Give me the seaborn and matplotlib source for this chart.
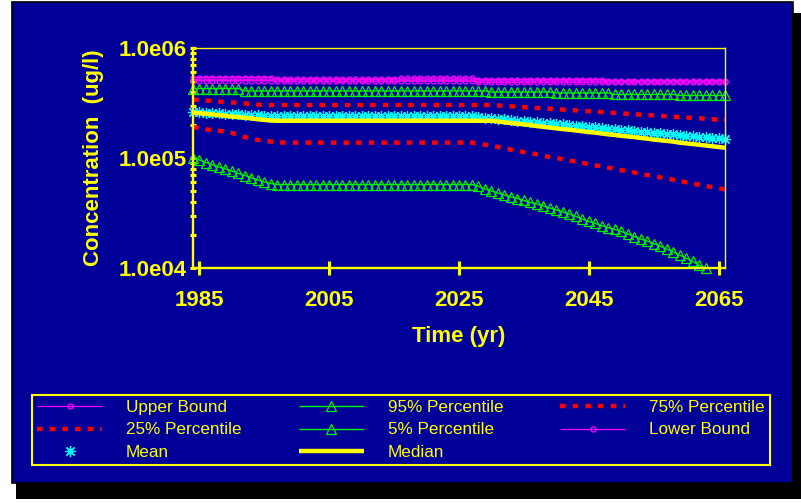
import numpy as np
import matplotlib
matplotlib.use("Agg")
import matplotlib.pyplot as plt
import seaborn as sns
from matplotlib.patches import Rectangle
from matplotlib.lines import Line2D

# ---------------- data ----------------
years = np.arange(1984, 2067)

upper_bound = [
    5.39e5, 5.39e5, 5.39e5, 5.39e5, 5.39e5, 5.39e5, 5.39e5, 5.39e5, 5.39e5, 5.39e5,
    5.39e5, 5.39e5, 5.39e5, 5.23e5, 5.23e5, 5.23e5, 5.23e5, 5.23e5, 5.23e5, 5.23e5,
    5.23e5, 5.23e5, 5.23e5, 5.23e5, 5.23e5, 5.23e5, 5.23e5, 5.23e5, 5.23e5, 5.23e5,
    5.23e5, 5.23e5, 5.34e5, 5.34e5, 5.34e5, 5.34e5, 5.34e5, 5.34e5, 5.34e5, 5.34e5,
    5.34e5, 5.34e5, 5.34e5, 5.34e5, 5.17e5, 5.17e5, 5.17e5, 5.17e5, 5.17e5, 5.17e5,
    5.17e5, 5.17e5, 5.17e5, 5.17e5, 5.17e5, 5.17e5, 5.17e5, 5.17e5, 5.17e5, 5.17e5,
    5.17e5, 5.17e5, 5.17e5, 5.17e5, 5.01e5, 5.01e5, 5.01e5, 5.01e5, 5.01e5, 5.01e5,
    5.01e5, 5.01e5, 5.01e5, 5.01e5, 5.01e5, 5.01e5, 5.01e5, 5.01e5, 5.01e5, 5.01e5,
    5.01e5, 5.01e5, 5.01e5,
]

lower_bound = [
    5.06e5, 5.06e5, 5.06e5, 5.06e5, 5.06e5, 5.06e5, 5.06e5, 5.06e5, 5.06e5, 5.06e5,
    5.06e5, 5.06e5, 5.06e5, 5.01e5, 5.01e5, 5.01e5, 5.01e5, 5.01e5, 5.01e5, 5.01e5,
    5.01e5, 5.01e5, 5.01e5, 5.01e5, 5.01e5, 5.01e5, 5.01e5, 5.01e5, 5.01e5, 5.01e5,
    5.01e5, 5.01e5, 5.01e5, 5.01e5, 5.01e5, 5.01e5, 5.01e5, 5.01e5, 5.01e5, 5.01e5,
    5.01e5, 5.01e5, 5.01e5, 5.01e5, 4.91e5, 4.91e5, 4.91e5, 4.91e5, 4.91e5, 4.91e5,
    4.91e5, 4.91e5, 4.91e5, 4.91e5, 4.91e5, 4.91e5, 4.91e5, 4.91e5, 4.91e5, 4.91e5,
    4.91e5, 4.91e5, 4.91e5, 4.91e5, 4.91e5, 4.91e5, 4.91e5, 4.91e5, 4.91e5, 4.91e5,
    4.91e5, 4.91e5, 4.91e5, 4.91e5, 4.91e5, 4.91e5, 4.91e5, 4.91e5, 4.91e5, 4.91e5,
    4.91e5, 4.91e5, 4.91e5,
]

p95 = [
    4.28e5, 4.28e5, 4.28e5, 4.28e5, 4.28e5, 4.28e5, 4.28e5, 4.28e5, 4.07e5, 4.07e5,
    4.07e5, 4.07e5, 4.07e5, 4.07e5, 4.07e5, 4.07e5, 4.07e5, 4.07e5, 4.07e5, 4.07e5,
    4.07e5, 4.07e5, 4.07e5, 4.07e5, 4.07e5, 4.07e5, 4.07e5, 4.07e5, 4.07e5, 4.07e5,
    4.07e5, 4.07e5, 4.07e5, 4.07e5, 4.07e5, 4.07e5, 4.07e5, 4.07e5, 4.07e5, 4.07e5,
    4.07e5, 4.07e5, 4.07e5, 4.07e5, 4.07e5, 4.07e5, 3.98e5, 3.98e5, 3.98e5, 3.98e5,
    3.98e5, 3.98e5, 3.98e5, 3.98e5, 3.98e5, 3.98e5, 3.90e5, 3.90e5, 3.90e5, 3.90e5,
    3.90e5, 3.90e5, 3.90e5, 3.90e5, 3.90e5, 3.78e5, 3.78e5, 3.78e5, 3.78e5, 3.78e5,
    3.78e5, 3.78e5, 3.78e5, 3.78e5, 3.78e5, 3.70e5, 3.70e5, 3.70e5, 3.70e5, 3.70e5,
    3.70e5, 3.70e5, 3.70e5,
]

p75 = [
    3.40e5, 3.37e5, 3.33e5, 3.30e5, 3.26e5, 3.23e5, 3.20e5, 3.16e5, 3.13e5, 3.10e5,
    3.06e5, 3.03e5, 3.03e5, 3.03e5, 3.03e5, 3.03e5, 3.03e5, 3.03e5, 3.03e5, 3.03e5,
    3.03e5, 3.03e5, 3.03e5, 3.03e5, 3.03e5, 3.03e5, 3.03e5, 3.03e5, 3.03e5, 3.03e5,
    3.03e5, 3.03e5, 3.03e5, 3.03e5, 3.03e5, 3.03e5, 3.03e5, 3.03e5, 3.03e5, 3.03e5,
    3.03e5, 3.03e5, 3.03e5, 3.03e5, 3.03e5, 3.03e5, 3.03e5, 3.01e5, 2.98e5, 2.95e5,
    2.93e5, 2.90e5, 2.88e5, 2.85e5, 2.83e5, 2.80e5, 2.78e5, 2.75e5, 2.73e5, 2.71e5,
    2.69e5, 2.66e5, 2.64e5, 2.61e5, 2.59e5, 2.57e5, 2.55e5, 2.52e5, 2.50e5, 2.48e5,
    2.46e5, 2.44e5, 2.42e5, 2.39e5, 2.37e5, 2.35e5, 2.33e5, 2.32e5, 2.30e5, 2.27e5,
    2.25e5, 2.23e5, 2.22e5,
]

p25 = [
    1.91e5, 1.87e5, 1.82e5, 1.80e5, 1.77e5, 1.74e5, 1.69e5, 1.62e5, 1.55e5, 1.49e5,
    1.46e5, 1.44e5, 1.41e5, 1.40e5, 1.38e5, 1.38e5, 1.38e5, 1.38e5, 1.38e5, 1.38e5,
    1.38e5, 1.38e5, 1.38e5, 1.38e5, 1.38e5, 1.38e5, 1.38e5, 1.38e5, 1.38e5, 1.38e5,
    1.38e5, 1.38e5, 1.38e5, 1.38e5, 1.38e5, 1.38e5, 1.38e5, 1.38e5, 1.38e5, 1.38e5,
    1.38e5, 1.38e5, 1.38e5, 1.38e5, 1.35e5, 1.32e5, 1.29e5, 1.26e5, 1.22e5, 1.19e5,
    1.16e5, 1.13e5, 1.11e5, 1.08e5, 1.05e5, 1.02e5, 1.00e5, 9.75e4, 9.50e4, 9.26e4,
    9.03e4, 8.81e4, 8.59e4, 8.37e4, 8.16e4, 7.96e4, 7.76e4, 7.57e4, 7.38e4, 7.19e4,
    7.01e4, 6.84e4, 6.67e4, 6.50e4, 6.34e4, 6.18e4, 6.02e4, 5.87e4, 5.73e4, 5.58e4,
    5.44e4, 5.31e4, 5.17e4,
]

p5 = [
    9.90e4, 9.59e4, 9.10e4, 8.64e4, 8.28e4, 7.94e4, 7.62e4, 7.23e4, 6.93e4, 6.58e4,
    6.31e4, 6.05e4, 5.86e4, 5.74e4, 5.74e4, 5.74e4, 5.74e4, 5.74e4, 5.74e4, 5.74e4,
    5.74e4, 5.74e4, 5.74e4, 5.74e4, 5.74e4, 5.74e4, 5.74e4, 5.74e4, 5.74e4, 5.74e4,
    5.74e4, 5.74e4, 5.74e4, 5.74e4, 5.74e4, 5.74e4, 5.74e4, 5.74e4, 5.74e4, 5.74e4,
    5.74e4, 5.74e4, 5.74e4, 5.74e4, 5.51e4, 5.23e4, 5.01e4, 4.81e4, 4.61e4, 4.42e4,
    4.28e4, 4.11e4, 3.94e4, 3.82e4, 3.66e4, 3.51e4, 3.37e4, 3.23e4, 3.10e4, 2.94e4,
    2.79e4, 2.65e4, 2.54e4, 2.43e4, 2.33e4, 2.24e4, 2.15e4, 2.04e4, 1.93e4, 1.83e4,
    1.76e4, 1.67e4, 1.58e4, 1.49e4, 1.40e4, 1.31e4, 1.23e4, 1.15e4, 1.06e4, 9.90e3,
    np.nan, np.nan, np.nan,
]

mean = [
    2.62e5, 2.60e5, 2.58e5, 2.57e5, 2.55e5, 2.53e5, 2.51e5, 2.49e5, 2.47e5, 2.46e5,
    2.44e5, 2.42e5, 2.41e5, 2.40e5, 2.40e5, 2.40e5, 2.40e5, 2.40e5, 2.40e5, 2.40e5,
    2.40e5, 2.40e5, 2.40e5, 2.40e5, 2.40e5, 2.40e5, 2.40e5, 2.40e5, 2.40e5, 2.40e5,
    2.40e5, 2.40e5, 2.40e5, 2.40e5, 2.40e5, 2.40e5, 2.40e5, 2.40e5, 2.40e5, 2.40e5,
    2.40e5, 2.40e5, 2.40e5, 2.40e5, 2.36e5, 2.33e5, 2.30e5, 2.27e5, 2.25e5, 2.22e5,
    2.19e5, 2.17e5, 2.14e5, 2.12e5, 2.09e5, 2.06e5, 2.04e5, 2.02e5, 1.99e5, 1.97e5,
    1.94e5, 1.92e5, 1.90e5, 1.87e5, 1.85e5, 1.83e5, 1.81e5, 1.78e5, 1.76e5, 1.74e5,
    1.72e5, 1.70e5, 1.68e5, 1.66e5, 1.64e5, 1.62e5, 1.60e5, 1.58e5, 1.56e5, 1.54e5,
    1.53e5, 1.51e5, 1.49e5,
]

median = [
    2.59e5, 2.55e5, 2.52e5, 2.49e5, 2.45e5, 2.42e5, 2.38e5, 2.35e5, 2.32e5, 2.29e5,
    2.25e5, 2.22e5, 2.19e5, 2.18e5, 2.18e5, 2.18e5, 2.18e5, 2.18e5, 2.18e5, 2.18e5,
    2.18e5, 2.18e5, 2.18e5, 2.18e5, 2.18e5, 2.18e5, 2.18e5, 2.18e5, 2.18e5, 2.18e5,
    2.18e5, 2.18e5, 2.18e5, 2.18e5, 2.18e5, 2.18e5, 2.18e5, 2.18e5, 2.18e5, 2.18e5,
    2.18e5, 2.18e5, 2.18e5, 2.18e5, 2.18e5, 2.18e5, 2.18e5, 2.15e5, 2.11e5, 2.08e5,
    2.05e5, 2.02e5, 1.99e5, 1.95e5, 1.92e5, 1.89e5, 1.86e5, 1.83e5, 1.81e5, 1.78e5,
    1.75e5, 1.72e5, 1.70e5, 1.67e5, 1.64e5, 1.62e5, 1.59e5, 1.57e5, 1.55e5, 1.52e5,
    1.50e5, 1.47e5, 1.45e5, 1.43e5, 1.41e5, 1.38e5, 1.36e5, 1.34e5, 1.32e5, 1.30e5,
    1.28e5, 1.26e5, 1.24e5,
]

x_ticks = [1985, 2005, 2025, 2045, 2065]
y_ticks = [1e4, 1e5, 1e6]
y_tick_labels = ["1.0e04", "1.0e05", "1.0e06"]
x_title = "Time (yr)"
y_title = "Concentration  (ug/l)"

# ---------------- style ----------------
BG = "#000099"
YEL = "#FFFF00"
MAG = "#FF00FF"
GRN = "#00F000"
RED = "#FF0000"
CYN = "#00FFFF"

W, H = 801, 504
plt.rcParams["font.family"] = ["Liberation Sans", "DejaVu Sans"]

fig = plt.figure(figsize=(W / 100, H / 100), dpi=100, facecolor="white")

def fx(px):
    return px / W

def fy(py):
    return 1 - py / H

# shadow + panel
fig.patches.append(Rectangle((fx(16), fy(499)), fx(801) - fx(16), fy(13) - fy(499),
                             transform=fig.transFigure, facecolor="black",
                             edgecolor="none", zorder=-20))
fig.patches.append(Rectangle((fx(12), fy(483)), fx(793) - fx(12), fy(2) - fy(483),
                             transform=fig.transFigure, facecolor=BG,
                             edgecolor="black", linewidth=1.2, zorder=-10))

ax = fig.add_axes([fx(193), fy(268), fx(725) - fx(193), fy(48) - fy(268)])
ax.set_facecolor("none")
ax.set_yscale("log")

red_dash = (0, (1.25, 1.6))

series = [
    ("Upper Bound", upper_bound, dict(color=MAG, lw=0.9, marker="o", ms=3.6,
                                      mfc="none", mec=MAG, mew=0.9)),
    ("95% Percentile", p95, dict(color=GRN, lw=1.0, marker="^", ms=7.5,
                                 mfc="none", mec=GRN, mew=0.9)),
    ("75% Percentile", p75, dict(color=RED, lw=3.2, ls=red_dash,
                                 dash_capstyle="butt")),
    ("25% Percentile", p25, dict(color=RED, lw=3.2, ls=red_dash,
                                 dash_capstyle="butt")),
    ("5% Percentile", p5, dict(color=GRN, lw=1.0, marker="^", ms=7.5,
                               mfc="none", mec=GRN, mew=0.9)),
    ("Lower Bound", lower_bound, dict(color=MAG, lw=0.9, marker="o", ms=3.6,
                                      mfc="none", mec=MAG, mew=0.9)),
    ("Mean", mean, dict(color=CYN, lw=0, ls="none", marker=(8, 2, 0), ms=8,
                        mec=CYN, mew=0.9)),
    ("Median", median, dict(color=YEL, lw=3.2, solid_capstyle="butt")),
]

handles = {}
for name, vals, kw in series:
    sns.lineplot(x=years, y=np.array(vals, dtype=float), ax=ax, legend=False,
                 clip_on=False, **kw)
    handles[name] = ax.get_lines()[-1]

ax.set_xlim(1984, 2066)
ax.set_ylim(1e4, 1e6)

# spines
for side in ["left", "bottom"]:
    ax.spines[side].set_color(YEL)
    ax.spines[side].set_linewidth(1.7)
for side in ["top", "right"]:
    ax.spines[side].set_color(YEL)
    ax.spines[side].set_linewidth(1.0)

ax.set_xticks(x_ticks)
ax.set_xticklabels([str(t) for t in x_ticks])
ax.set_yticks(y_ticks)
ax.set_yticklabels(y_tick_labels)
ax.yaxis.set_minor_locator(matplotlib.ticker.LogLocator(base=10, subs=np.arange(2, 10)))
ax.yaxis.set_minor_formatter(matplotlib.ticker.NullFormatter())
ax.xaxis.set_minor_locator(matplotlib.ticker.NullLocator())

ax.tick_params(axis="x", which="major", direction="inout", length=10, width=2.2,
               color=YEL, labelcolor=YEL, labelsize=16, pad=11)
ax.tick_params(axis="y", which="major", direction="inout", length=5, width=2.2,
               color=YEL, labelcolor=YEL, labelsize=16, pad=2)
ax.tick_params(axis="y", which="minor", direction="inout", length=5, width=2.2,
               color=YEL)
for lab in ax.get_xticklabels() + ax.get_yticklabels():
    lab.set_fontweight("bold")

ax.set_xlabel(x_title, color=YEL, fontsize=16, fontweight="bold", va="top")
ax.set_ylabel(y_title, color=YEL, fontsize=16, fontweight="bold")
ax.xaxis.set_label_coords(0.5, -(326 - 268) / 220)
ax.yaxis.set_label_coords(-(193 - 104) / 532, 0.5)

# legend (column-major order to reproduce the row layout)
order = ["Upper Bound", "25% Percentile", "Mean",
         "95% Percentile", "5% Percentile", "Median",
         "75% Percentile", "Lower Bound"]
leg_handles = []
for name in order:
    ln = handles[name]
    is_red = name in ("75% Percentile", "25% Percentile")
    h = Line2D([], [], color=ln.get_color(), lw=ln.get_linewidth(),
               ls=red_dash if is_red else ln.get_linestyle(),
               marker=ln.get_marker(), ms=ln.get_markersize(),
               mfc=ln.get_markerfacecolor(), mec=ln.get_markeredgecolor(),
               mew=ln.get_markeredgewidth(), dash_capstyle="butt",
               solid_capstyle="butt")
    leg_handles.append(h)

leg = fig.legend(leg_handles, order, ncol=3, mode="expand",
                 bbox_to_anchor=(fx(32), fy(465), fx(770) - fx(32), fy(395) - fy(465)),
                 bbox_transform=fig.transFigure, loc="center", borderaxespad=0,
                 fontsize=12.3, labelcolor=YEL, frameon=True, fancybox=False,
                 facecolor=BG, edgecolor=YEL, framealpha=1, numpoints=1,
                 handlelength=3.8, handletextpad=1.4, labelspacing=0.42,
                 borderpad=0.3)
leg.get_frame().set_linewidth(1.5)

fig.savefig("out.png", dpi=100, facecolor="white")
